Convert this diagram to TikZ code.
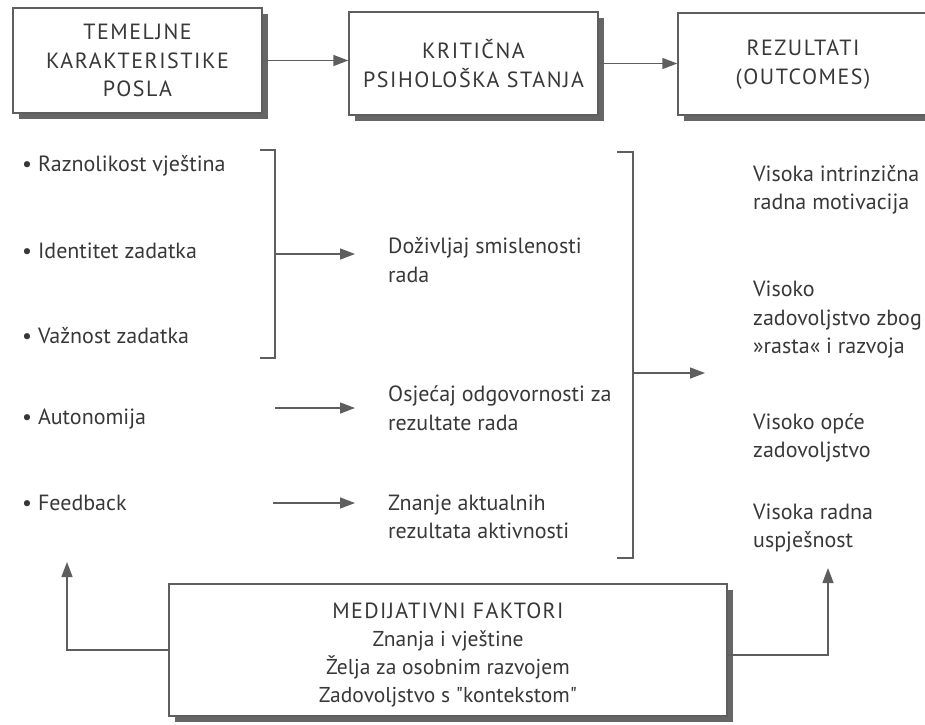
\documentclass[tikz,border=0pt]{standalone}
\usepackage{fontspec}
\setmainfont{PT Sans}[Ligatures=TeXOff]
\usetikzlibrary{arrows.meta,calc,shadows}
\definecolor{ink}{HTML}{383838}
\definecolor{ln}{HTML}{5E5E5E}
\definecolor{shd}{HTML}{666666}
\newcommand{\capsA}{\fontsize{22}{28.5}\selectfont\addfontfeature{LetterSpace=7}}
\newcommand{\capsB}{\fontsize{22}{28}\selectfont\addfontfeature{LetterSpace=6}}
\begin{document}
\begin{tikzpicture}[x=1pt,y=-1pt,
  box/.style={draw=ln, line width=1.4pt, fill=white, inner sep=0pt, align=center,
    text=ink, font=\capsA,
    drop shadow={shadow xshift=6pt,shadow yshift=-6pt,fill=shd,opacity=1}},
  txt/.style={text=ink, align=center, inner sep=0pt},
  lbl/.style={text=ink, font=\fontsize{22}{28.5}\selectfont, align=left, inner sep=0pt, anchor=west},
  con/.style={draw=ln, line width=1.4pt},
  arr/.style={con, -{Triangle[length=15pt,width=11pt]}},
]
\useasboundingbox (0,0) rectangle (925,724);
% boxes
\node[box, minimum width=249pt, minimum height=105pt] (b1) at (137.5,60.5) {TEMELJNE\\KARAKTERISTIKE\\POSLA};
\node[box, minimum width=249pt, minimum height=103pt] (b2) at (473.5,63.5) {KRITIČNA\\PSIHOLOŠKA STANJA};
\node[box, minimum width=250pt, minimum height=102pt] (b3) at (803,64) {\rule{0pt}{17pt}REZULTATI\\(OUTCOMES)};
\node[box, minimum width=558pt, minimum height=132pt] (b4) at (448,650) {};
\node[txt, font=\fontsize{21.5}{27.8}\selectfont] (b4t) at (448,655)
  {{\capsB MEDIJATIVNI FAKTORI}\\Znanja i vještine\\Želja za osobnim razvojem\\Zadovoljstvo s "kontekstom"};
% top arrows
\draw[arr] (b1.east) -- (b1.east -| b2.west);
\draw[arr] (b2.east) -- (b2.east -| b3.west);
% left items
\node[lbl] (raz) at (22,166) {• Raznolikost vještina};
\node[lbl] (ide) at (22,251) {• Identitet zadatka};
\node[lbl] (vaz) at (22,336) {• Važnost zadatka};
\node[lbl] (aut) at (22,419) {• Autonomija};
\node[lbl] (fee) at (22,503) {• Feedback};
% middle
\node[lbl] (doz) at (388,260) {Doživljaj smislenosti\\rada};
\node[lbl] (osj) at (388,408) {Osjećaj odgovornosti za\\rezultate rada};
\node[lbl] (zna) at (388,517) {Znanje aktualnih\\rezultata aktivnosti};
% right
\node[lbl] (vim) at (753,190) {Visoka intrinzična\\radna motivacija};
\node[lbl] (vzr) at (753,320) {Visoko\\zadovoljstvo zbog\\»rasta« i razvoja};
\node[lbl] (voz) at (753,438) {Visoko opće\\zadovoljstvo};
\node[lbl] (vru) at (753,528) {Visoka radna\\uspješnost};
% bracket 1
\coordinate (k1t) at (275,150);
\coordinate (k1b) at (275,358);
\coordinate (k1m) at (275,254);
\draw[con] ([xshift=-15pt]k1t) -- (k1t) -- (k1b) -- ([xshift=-15pt]k1b);
\draw[arr, shorten >=33pt] (k1m) -- (k1m -| doz.west);
% single arrows
\coordinate (aS) at (275,408);
\draw[arr, shorten >=33pt] (aS) -- (aS -| osj.west);
\coordinate (fS) at (273,503);
\draw[arr, shorten >=33pt] (fS) -- (fS -| zna.west);
% bracket 2
\coordinate (k2t) at (633,152);
\coordinate (k2b) at (633,558);
\coordinate (k2m) at (633,373);
\draw[con] ([xshift=-16pt]k2t) -- (k2t) -- (k2b) -- ([xshift=-16pt]k2b);
\draw[arr, shorten >=48pt] (k2m) -- (k2m -| vzr.west);
% bottom arrows
\coordinate (lt) at (67,562);
\coordinate (rt) at (828,568);
\draw[arr] (b4.west) -| (lt);
\draw[arr] ([yshift=-5pt]b4.east) -| (rt);
\end{tikzpicture}
\end{document}
